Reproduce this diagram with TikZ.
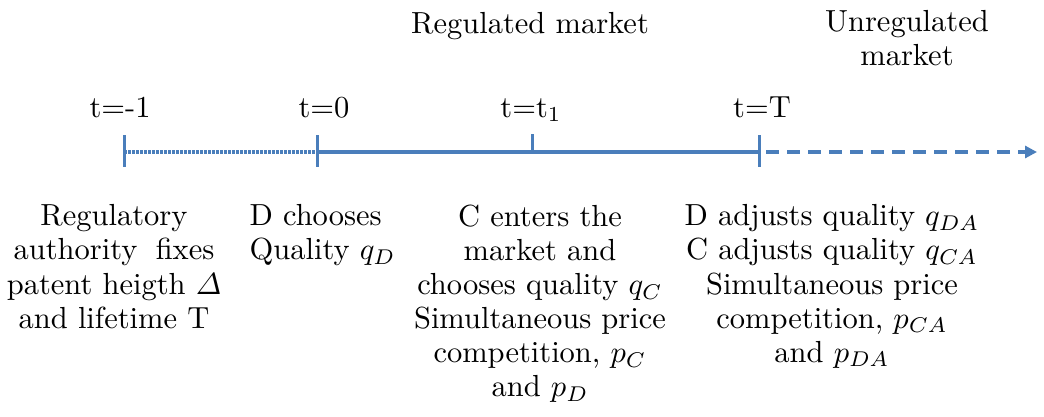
\documentclass[tikz,border=0pt]{standalone}
\usepackage{amsmath}
\usetikzlibrary{arrows.meta}
\definecolor{tlblue}{RGB}{74,126,187}
\begin{document}
\begin{tikzpicture}[x=1pt,y=-1pt,
  lbl/.style={scale=3.05, transform shape, inner sep=0pt, font=\fontsize{10}{11.2}\selectfont, align=center},
  axis/.style={draw=tlblue, line width=3.5pt},
  tickmark/.style={draw=tlblue, line width=3pt},
  dotline/.style={axis, dash pattern=on 2.5pt off 1.5pt},
  dashline/.style={axis, dash pattern=on 13pt off 8pt, -{Triangle[length=12pt,width=12pt]}}
]
\useasboundingbox (0,0) rectangle (1044,416);
% header texts
\node[lbl, anchor=base] (reg) at (530,33) {Regulated market};
\node[lbl, anchor=north] (unreg) at (907,10) {Unregulated\\market};
% time labels
\node[lbl, anchor=base] (lm1) at (120,117) {t=-1};
\node[lbl, anchor=base] (l0) at (324,117) {t=0};
\node[lbl, anchor=base] (l1) at (531,117) {t=t$_1$};
\node[lbl, anchor=base] (lT) at (762,117) {t=T};
% timeline points
\coordinate (tm1) at (124,152);
\coordinate (t0) at (317,152);
\coordinate (t1) at (532,152);
\coordinate (tT) at (759,152);
\coordinate (tend) at (1037,152);
\draw[dotline] (tm1) -- (t0);
\draw[axis] (t0) -- (tT);
\draw[dashline, shorten <=7pt] (tT) -- (tend);
\draw[tickmark] (tm1) ++(0,-17) -- ++(0,32);
\draw[tickmark] (t0) ++(0,-17) -- ++(0,32);
\draw[tickmark] (t1) ++(0,-18) -- ++(0,18);
\draw[tickmark] (tT) ++(0,-17) -- ++(0,32);
% descriptions
\node[lbl, anchor=north] (d1) at (114,204) {Regulatory\\authority\hspace{0.6em}fixes\\patent heigth $\varDelta$\\and lifetime T};
\node[lbl, anchor=north west, align=left] (d2) at (249,204) {D chooses\\Quality $q_D$};
\node[lbl, anchor=north] (d3) at (540,204) {C enters the\\market and\\chooses quality $q_C$\\Simultaneous price\\competition, $p_C$\\and $p_D$};
\node[lbl, anchor=north] (d4) at (832,204) {D adjusts quality $q_{DA}$\\C adjusts quality $q_{CA}$\\Simultaneous price\\competition, $p_{CA}$\\and $p_{DA}$};
\end{tikzpicture}
\end{document}
